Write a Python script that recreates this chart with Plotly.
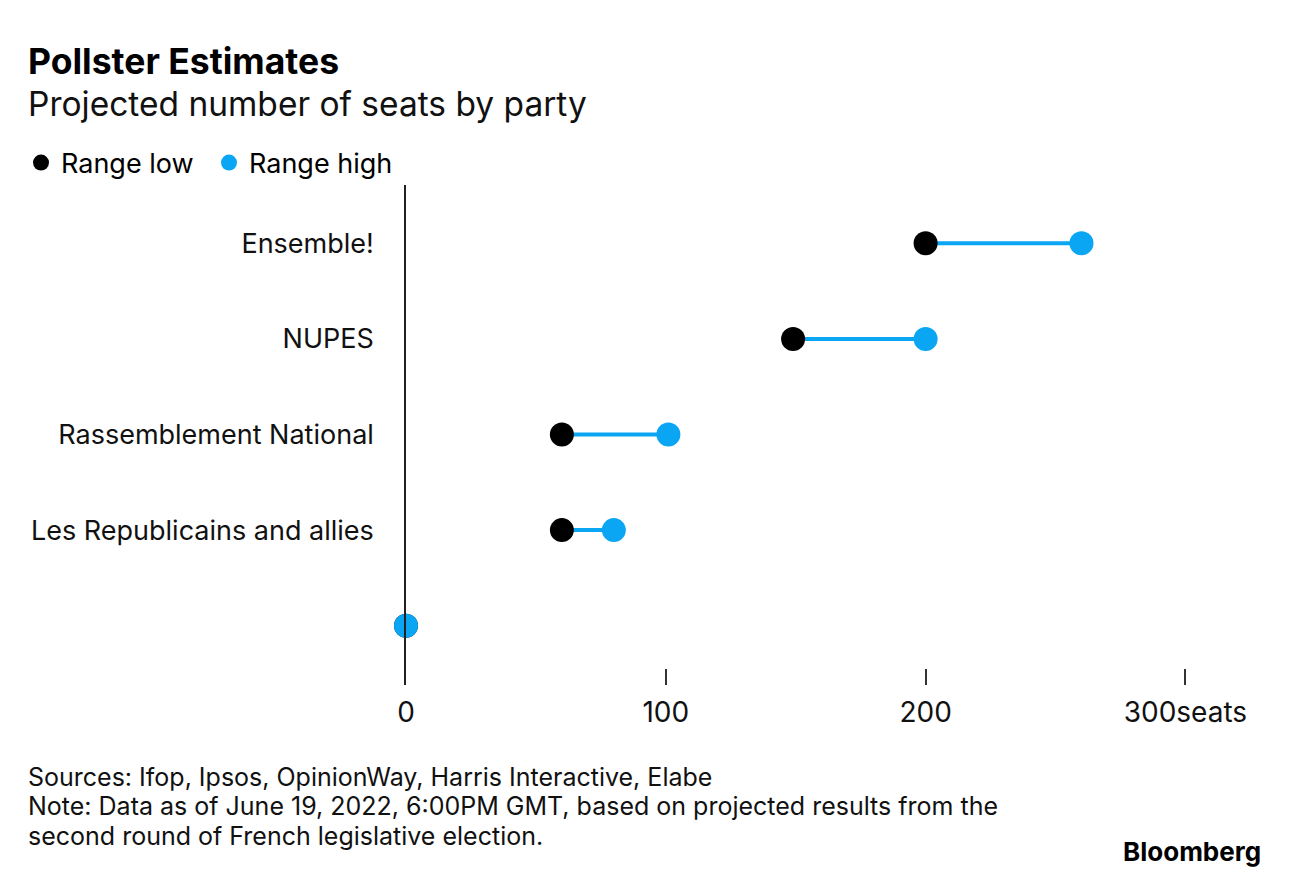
import plotly.graph_objects as go

# ---- data ----
parties = ["Ensemble!", "NUPES", "Rassemblement National", "Les Republicains and allies", ""]
range_low = [200, 149, 60, 60, 0]
range_high = [260, 200, 101, 80, 0]
x_tick_vals = [0, 100, 200, 300]
x_tick_text = ["0", "100", "200", "300seats"]

BLUE = "#0aa6f4"
FONT = "Inter, Liberation Sans, Arial, sans-serif"

W, H = 1290, 876
OFF = 8  # page offset of the figure
# plot area in page pixel coordinates
L, R, T, B = 406, 1237, 185, 685


def px(xp):
    return (xp - L) / (R - L)


def py(yp):
    return (B - yp) / (B - T)


rows = list(range(len(parties)))

line_x, line_y = [], []
for i, (lo, hi) in enumerate(zip(range_low, range_high)):
    line_x += [lo, hi, None]
    line_y += [i, i, None]

fig = go.Figure()
fig.add_trace(go.Scatter(
    x=line_x, y=line_y, mode="lines",
    line=dict(color=BLUE, width=4),
    showlegend=False, hoverinfo="skip", cliponaxis=False,
))
fig.add_trace(go.Scatter(
    x=range_low, y=rows, mode="markers", name="Range low",
    marker=dict(color="#000000", size=24),
    cliponaxis=False,
))
fig.add_trace(go.Scatter(
    x=range_high, y=rows, mode="markers", name="Range high",
    marker=dict(color=BLUE, size=24),
    cliponaxis=False,
))

fig.update_layout(
    width=W, height=H,
    margin=dict(l=L - OFF, r=W - (R - OFF), t=T - OFF, b=H - (B - OFF)),
    paper_bgcolor="white", plot_bgcolor="white",
    font=dict(family=FONT, color="#000000", size=26),
    showlegend=True,
    legend=dict(
        orientation="h", x=px(21), y=py(163), xanchor="left", yanchor="middle",
        font=dict(size=27, family=FONT, color="#000000"),
        itemsizing="trace", traceorder="normal",
        bgcolor="rgba(0,0,0,0)", borderwidth=0,
        entrywidthmode="pixels", entrywidth=143,
    ),
    xaxis=dict(
        range=[0, (R - L) / 2.598],
        tickvals=x_tick_vals, ticktext=x_tick_text,
        ticks="inside", ticklen=16, tickwidth=1.5, tickcolor="#333333",
        showgrid=False, zeroline=False, showline=False,
        tickfont=dict(size=28, family=FONT, color="#111111"),
        ticklabelstandoff=8,
    ),
    yaxis=dict(
        range=[len(parties) - 1 + 0.62, -0.61],
        tickvals=rows, ticktext=parties,
        showgrid=False, zeroline=False,
        showline=True, linecolor="#222222", linewidth=1.5,
        ticks="", tickfont=dict(size=27, family=FONT, color="#111111"),
        ticklabelstandoff=25,
    ),
)

annotations = [
    dict(text="<b>Pollster Estimates</b>", x=px(26), y=py(61), font=dict(size=35.5, color="#000000"),
         xanchor="left", yanchor="middle"),
    dict(text="Projected number of seats by party", x=px(26), y=py(104), font=dict(size=33.5, color="#111111"),
         xanchor="left", yanchor="middle"),
    dict(text="Sources: Ifop, Ipsos, OpinionWay, Harris Interactive, Elabe", x=px(26), y=py(777),
         font=dict(size=25, color="#111111"), xanchor="left", yanchor="middle"),
    dict(text="Note: Data as of June 19, 2022, 6:00PM GMT, based on projected results from the", x=px(26), y=py(806),
         font=dict(size=25, color="#111111"), xanchor="left", yanchor="middle"),
    dict(text="second round of French legislative election.", x=px(26), y=py(836),
         font=dict(size=25, color="#111111"), xanchor="left", yanchor="middle"),
    dict(text="<b>Bloomberg</b>", x=px(1263), y=py(851), font=dict(size=26, color="#000000"),
         xanchor="right", yanchor="middle"),
]
for a in annotations:
    a.update(xref="paper", yref="paper", showarrow=False, align="left")
fig.update_layout(annotations=annotations)

fig.write_html("out.html")
